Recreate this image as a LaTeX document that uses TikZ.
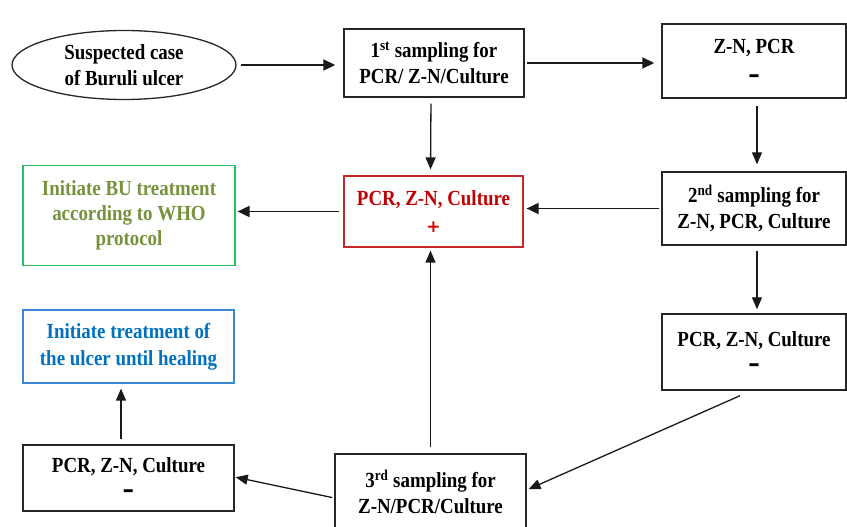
\documentclass[tikz,border=0pt]{standalone}
\usepackage{fontspec}
\setmainfont{Liberation Serif}[FakeStretch=0.88]
\newfontfamily\symfont{DejaVu Sans}
\usetikzlibrary{arrows.meta,shapes.geometric}
\definecolor{redtxt}{RGB}{192,0,0}
\definecolor{redline}{RGB}{200,40,40}
\definecolor{olivetxt}{RGB}{118,146,60}
\definecolor{greenline}{RGB}{40,190,90}
\definecolor{bluetxt}{RGB}{0,112,192}
\definecolor{blueline}{RGB}{60,135,210}
\newcommand{\negmark}{{\symfont\bfseries\fontsize{23}{23}\selectfont –}}
\newcommand{\posmark}{{\symfont\bfseries\fontsize{17}{17}\selectfont +}}
\tikzset{
  txt/.style={font=\fontsize{21.5}{26}\selectfont\bfseries, align=center, inner sep=0pt},
  boxnode/.style={txt, draw=black!85, line width=1.4pt, rectangle},
  ovalnode/.style={txt, draw=black!85, line width=1.3pt, ellipse},
  conn/.style={line width=1.8pt, draw=black!90, -{Triangle[length=12pt,width=11pt]}},
  thinconn/.style={line width=1.3pt, draw=black!90, -{Triangle[length=12pt,width=10pt]}},
}
\begin{document}
\begin{tikzpicture}[x=1pt,y=-1pt]
\useasboundingbox (0,0) rectangle (847,527);
% nodes
\node[ovalnode, minimum width=224pt, minimum height=69pt] (sus) at (124,65) {Suspected case\\of Buruli ulcer};
\node[boxnode, minimum width=180pt, minimum height=68pt] (s1) at (434,63) {1\textsuperscript{st} sampling for\\PCR/ Z-N/Culture};
\node[boxnode, minimum width=184pt, minimum height=74pt] (zn) at (754,61) {Z-N, PCR\\[3pt]\negmark};
\node[boxnode, minimum width=184pt, minimum height=73pt] (s2) at (754,208.5) {2\textsuperscript{nd} sampling for\\Z-N, PCR, Culture};
\node[boxnode, draw=redline, text=redtxt, line width=1.2pt, minimum width=179pt, minimum height=71pt] (pos) at (433.5,211.5) {PCR, Z-N, Culture\\[1pt]\textcolor{red!85!black}{\posmark}};
\node[boxnode, draw=greenline, text=olivetxt, line width=1.2pt, font=\fontsize{21.5}{25}\selectfont\bfseries, minimum width=212pt, minimum height=100pt] (who) at (129,215.5) {Initiate BU treatment\\according to WHO\\protocol};
\node[boxnode, draw=blueline, text=bluetxt, line width=1.2pt, font=\fontsize{21.5}{27}\selectfont\bfseries, minimum width=211pt, minimum height=73pt] (heal) at (128.5,346.5) {Initiate treatment of\\the ulcer until healing};
\node[boxnode, minimum width=184pt, minimum height=76pt] (rneg) at (754,352) {PCR, Z-N, Culture\\[-1pt]\negmark};
\node[boxnode, minimum width=191pt, minimum height=76pt] (s3) at (430.5,492) {3\textsuperscript{rd} sampling for\\Z-N/PCR/Culture};
\node[boxnode, minimum width=211pt, minimum height=66pt] (lneg) at (128.5,478) {PCR, Z-N, Culture\\[-1pt]\negmark};
% connectors
\draw[conn, shorten <=4pt, shorten >=8pt] (sus.east) -- (sus.east -| s1.west);
\draw[conn, shorten <=2pt, shorten >=7pt] (s1.east) -- (s1.east -| zn.west);
\draw[thinconn, shorten <=7pt, shorten >=7pt] ([xshift=3pt]zn.south) -- ([xshift=3pt]s2.north);
\draw[conn, shorten <=2pt, shorten >=3pt] (s2.west) -- (s2.west -| pos.east);
\draw[thinconn, shorten <=6pt, shorten >=6pt] ([xshift=-3pt]s1.south) -- ([xshift=-3pt]pos.north);
\draw[conn, shorten <=4pt, shorten >=2pt] (pos.west) -- (pos.west -| who.east);
\draw[thinconn, shorten <=5pt, shorten >=4pt] ([xshift=3pt]s2.south) -- ([xshift=3pt]rneg.north);
\draw[thinconn, shorten >=2pt] ([xshift=-14pt,yshift=-5pt]rneg.south) -- ([yshift=2pt]s3.east);
\draw[thinconn, shorten <=6pt, shorten >=3pt] (s3.north) -- (s3.north |- pos.south);
\draw[thinconn, shorten <=2pt, shorten >=1pt] ([yshift=-6pt]s3.west) -- ([yshift=1pt]lneg.east);
\draw[thinconn, shorten <=5pt, shorten >=5pt] ([xshift=-7.5pt]lneg.north) -- ([xshift=-7.5pt]heal.south);
\end{tikzpicture}
\end{document}
